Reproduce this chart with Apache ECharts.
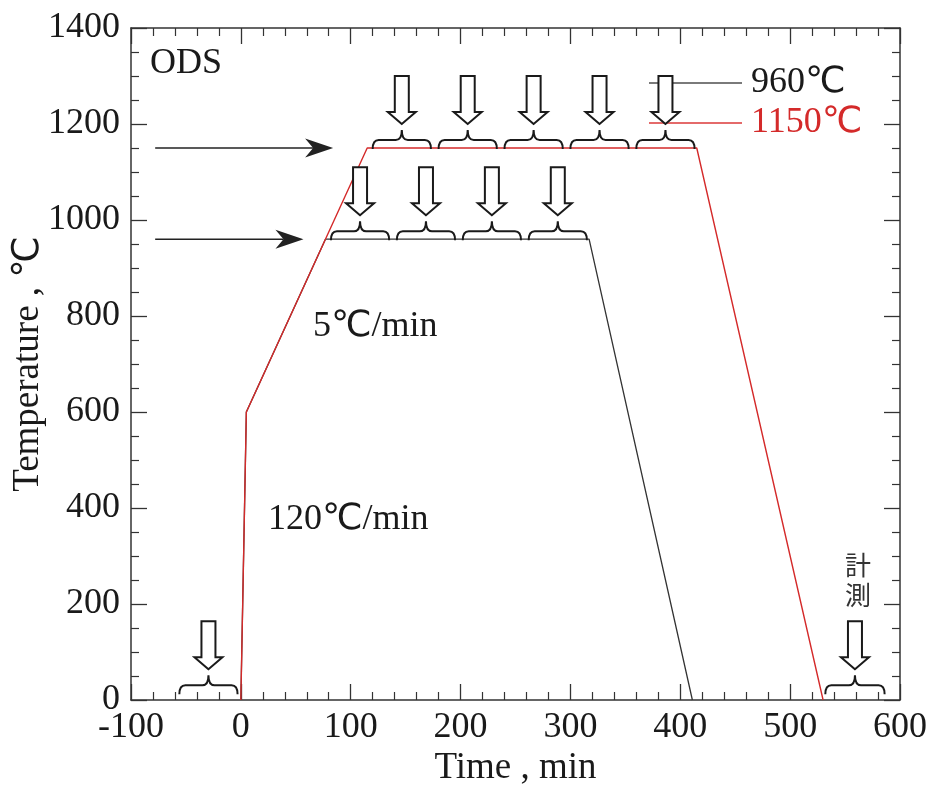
<!DOCTYPE html>
<html><head><meta charset="utf-8">
<script src="https://cdn.jsdelivr.net/npm/echarts@6/dist/echarts.min.js"></script>
<style>html,body{margin:0;padding:0;background:#fff}#c{width:930px;height:785px}</style>
</head><body><div id="c"></div>
<script>
// ---- data ----
const timeBlack = [0, 5, 77, 317, 411];
const tempBlack = [0, 600, 960, 960, 0];
const timeRed = [0, 5, 115, 415, 530];
const tempRed = [0, 600, 1150, 1150, 0];
const seriesNames = ['960℃', '1150℃'];
// measurement windows (brace + block arrow): [start, end, level]
const windows1150 = [[120, 173, 1150], [180, 233, 1150], [240, 293, 1150], [300, 353, 1150], [360, 413, 1150]];
const windows960 = [[82, 135, 960], [142, 195, 960], [202, 255, 960], [262, 315, 960]];
const windowsRoom = [[-56, -3, 14], [532, 586, 14]];
// horizontal pointer arrows: [start, end, level]
const pointerArrows = [[-78, 84, 1150], [-78, 57, 960]];
const xRange = [-100, 600, 100];
const yRange = [0, 1400, 200];

const SERIF = '"Liberation Serif", "Times New Roman", "DejaVu Sans"';
const zip = (a, b) => a.map((v, i) => [v, b[i]]);

function renderWindow(params, api) {
  const p0 = api.coord([api.value(0), api.value(2)]);
  const p1 = api.coord([api.value(1), api.value(2)]);
  const base = p0[1] + 1;
  const xa = p0[0], xb = p1[0], xm = (xa + xb) / 2;
  const bar = base - 9, tip = base - 19, r = 6;
  const brace = `M${xa},${base} Q${xa},${bar} ${xa + r},${bar} L${xm - r},${bar} Q${xm},${bar} ${xm},${tip} ` +
    `Q${xm},${bar} ${xm + r},${bar} L${xb - r},${bar} Q${xb},${bar} ${xb},${base}`;
  const t = tip - 6;
  const arrow = [[xm, t], [xm - 14, t - 12], [xm - 7, t - 12], [xm - 7, t - 48], [xm + 7, t - 48], [xm + 7, t - 12], [xm + 14, t - 12]];
  return {
    type: 'group', children: [
      { type: 'path', shape: { pathData: brace }, style: { fill: 'none', stroke: '#1a1a1a', lineWidth: 2 } },
      { type: 'polygon', shape: { points: arrow }, style: { fill: '#fff', stroke: '#1a1a1a', lineWidth: 2, lineJoin: 'miter' } }
    ]
  };
}
function renderPointer(params, api) {
  const p0 = api.coord([api.value(0), api.value(2)]);
  const p1 = api.coord([api.value(1), api.value(2)]);
  const y = p0[1], tx = p1[0];
  return {
    type: 'group', children: [
      { type: 'line', shape: { x1: p0[0], y1: y, x2: tx - 20, y2: y }, style: { stroke: '#222', lineWidth: 1.5 } },
      { type: 'polygon', shape: { points: [[tx, y], [tx - 28, y - 9.5], [tx - 20, y], [tx - 28, y + 9.5]] }, style: { fill: '#222' } }
    ]
  };
}

const axisCommon = {
  axisLine: { show: true, onZero: false, lineStyle: { color: '#333', width: 1.5 } },
  axisTick: { show: true, inside: true, length: 16, lineStyle: { color: '#333', width: 1.3 } },
  minorTick: { show: true, length: 8, lineStyle: { color: '#333', width: 1.2 } },
  splitLine: { show: false }
};
const plain = v => String(v);

const chart = echarts.init(document.getElementById('c'), null, { renderer: 'canvas' });
chart.setOption({
  animation: false,
  backgroundColor: '#fff',
  grid: { left: 131, right: 30, top: 28, bottom: 85, containLabel: false, outerBoundsMode: 'none' },
  legend: {
    left: 649, top: 65, orient: 'vertical', padding: 0, itemGap: 4,
    itemWidth: 93, itemHeight: 2, icon: 'rect', selectedMode: false,
    textStyle: { fontFamily: SERIF, fontSize: 36, lineHeight: 36, color: '#1a1a1a', padding: [0, 0, 0, 4] },
    data: [
      { name: seriesNames[0], itemStyle: { color: '#7a7a7a' } },
      { name: seriesNames[1], itemStyle: { color: '#e46a6a' }, textStyle: { color: '#d42a2a' } }
    ]
  },
  xAxis: [
    Object.assign({}, axisCommon, {
      type: 'value', position: 'bottom', min: xRange[0], max: xRange[1], interval: xRange[2],
      minorTick: Object.assign({}, axisCommon.minorTick, { splitNumber: 5 }),
      axisLabel: { fontFamily: SERIF, fontSize: 36, color: '#1a1a1a', margin: 10, formatter: plain },
      name: 'Time , min', nameLocation: 'middle', nameGap: 50, nameMoveOverlap: false,
      nameTextStyle: { fontFamily: SERIF, fontSize: 37, color: '#1a1a1a' }
    }),
    Object.assign({}, axisCommon, {
      type: 'value', position: 'top', min: xRange[0], max: xRange[1], interval: xRange[2],
      minorTick: Object.assign({}, axisCommon.minorTick, { splitNumber: 5 }),
      axisLabel: { show: false }
    })
  ],
  yAxis: [
    Object.assign({}, axisCommon, {
      type: 'value', position: 'left', min: yRange[0], max: yRange[1], interval: yRange[2],
      minorTick: Object.assign({}, axisCommon.minorTick, { splitNumber: 4 }),
      axisLabel: { fontFamily: SERIF, fontSize: 36, color: '#1a1a1a', margin: 11, formatter: plain },
      name: 'Temperature , ℃', nameLocation: 'middle', nameGap: 84, nameMoveOverlap: false,
      nameTextStyle: { fontFamily: SERIF, fontSize: 37, color: '#1a1a1a' }
    }),
    Object.assign({}, axisCommon, {
      type: 'value', position: 'right', min: yRange[0], max: yRange[1], interval: yRange[2],
      minorTick: Object.assign({}, axisCommon.minorTick, { splitNumber: 4 }),
      axisLabel: { show: false }
    })
  ],
  series: [
    { name: seriesNames[0], type: 'line', data: zip(timeBlack, tempBlack), showSymbol: false, symbol: 'none',
      lineStyle: { color: '#333', width: 1.3 }, itemStyle: { color: '#7a7a7a' }, z: 2 },
    { name: seriesNames[1], type: 'line', data: zip(timeRed, tempRed), showSymbol: false, symbol: 'none',
      lineStyle: { color: '#d42a2a', width: 1.4 }, itemStyle: { color: '#e46a6a' }, z: 3 },
    { type: 'custom', coordinateSystem: 'cartesian2d', renderItem: renderWindow, encode: { x: [0, 1], y: 2 },
      data: windows1150.concat(windows960, windowsRoom), z: 4, silent: true },
    { type: 'custom', coordinateSystem: 'cartesian2d', renderItem: renderPointer, encode: { x: [0, 1], y: 2 },
      data: pointerArrows, z: 4, silent: true }
  ],
  graphic: [
    { type: 'text', x: 150, y: 64, style: { text: 'ODS', font: '36px ' + SERIF, fill: '#1a1a1a', align: 'left', verticalAlign: 'middle' } },
    { type: 'text', x: 313, y: 327, style: { text: '5℃/min', font: '36px ' + SERIF, fill: '#1a1a1a', align: 'left', verticalAlign: 'middle' } },
    { type: 'text', x: 268, y: 520, style: { text: '120℃/min', font: '36px ' + SERIF, fill: '#1a1a1a', align: 'left', verticalAlign: 'middle' } },
    { type: 'text', x: 858, y: 580, style: { text: '計\n測', font: '26px "Noto Sans CJK JP"', lineHeight: 30, fill: '#333', align: 'center', verticalAlign: 'middle' } }
  ]
});
</script></body></html>
